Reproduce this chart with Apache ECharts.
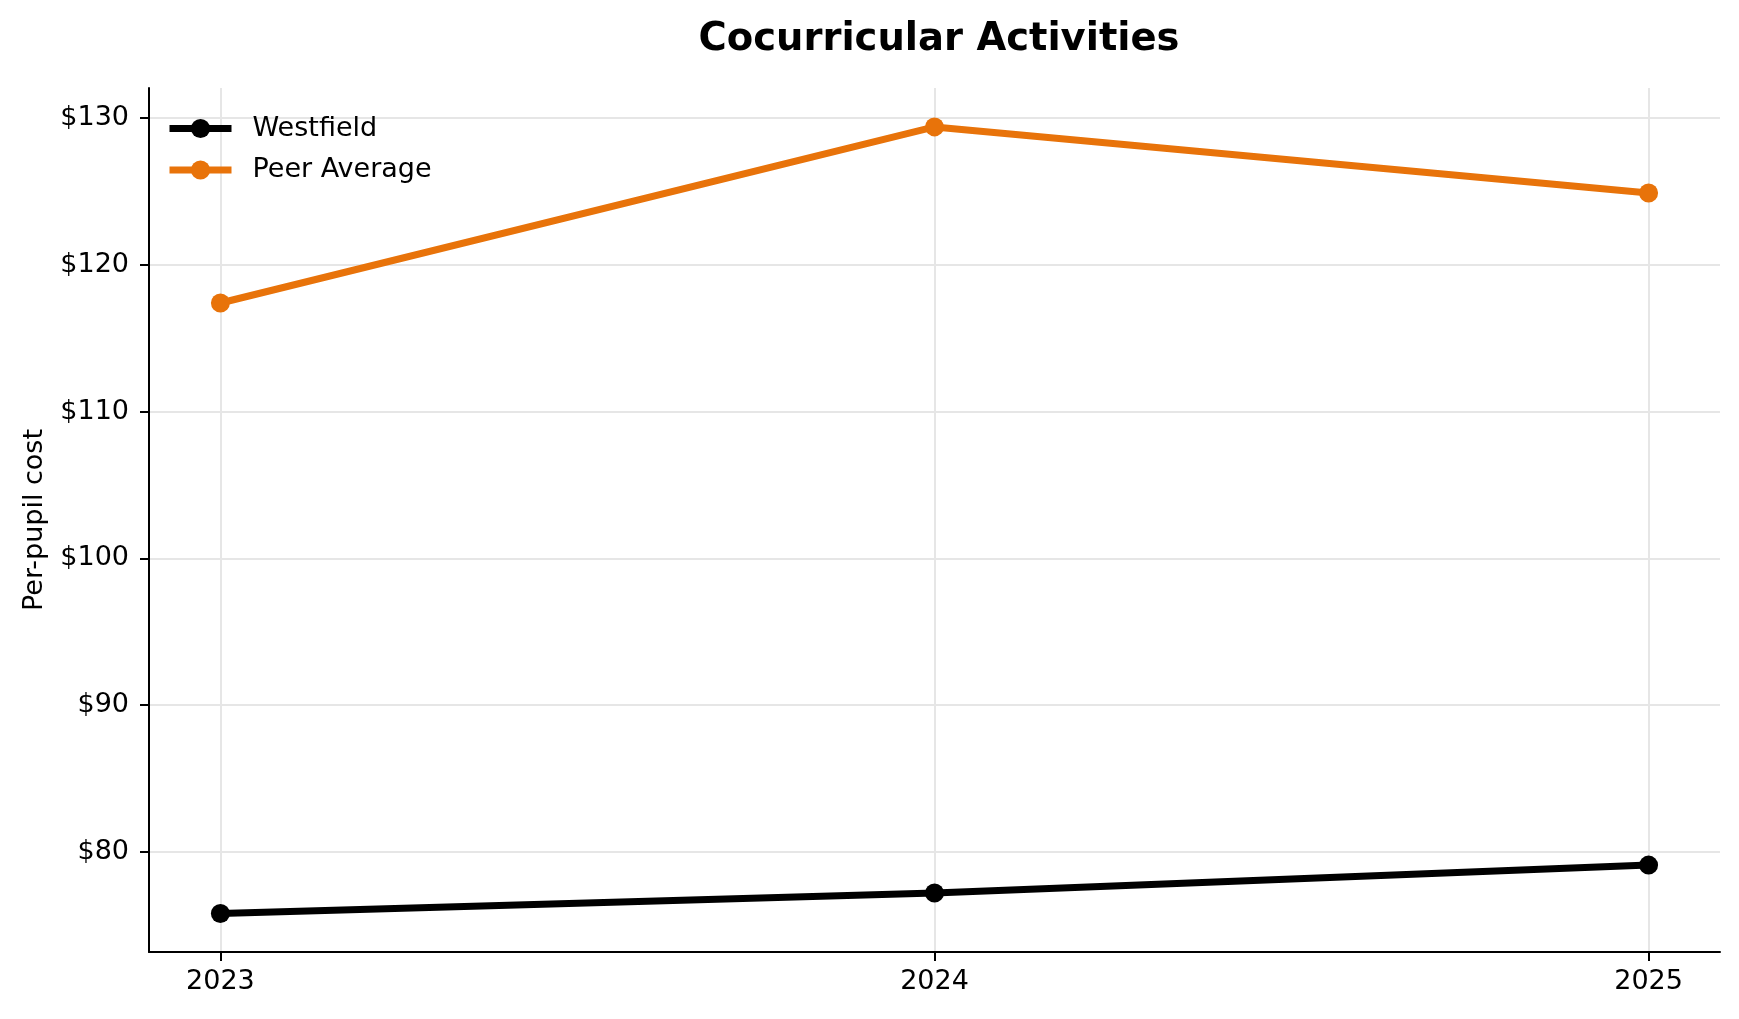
<!DOCTYPE html>
<html>
<head>
<meta charset="utf-8">
<title>Cocurricular Activities</title>
<script src="https://cdn.jsdelivr.net/npm/echarts@6/dist/echarts.min.js"></script>
<style>
	html,body{margin:0;padding:0;background:#fff;}
	#main{width:1739px;height:1019px;}
</style>
</head>
<body>
<div id="main"></div>
<script>
//数据
var years=[2023,2024,2025];
var westfield=[75.8,77.2,79.1];
var peerAvg=[117.4,129.4,124.9];
var yTicks=[80,90,100,110,120,130];

var font='DejaVu Sans';

function pairs(xs,ys){
	var out=[];
	for(var i=0;i<xs.length;i++){
		out.push([xs[i],ys[i]]);
	}
	return out;
}

function lineSeries(name,data,color){
	return {
		name:name,
		type:'line',
		data:pairs(years,data),
		symbol:'circle',
		symbolSize:19,
		showSymbol:true,
		lineStyle:{width:7,color:color},
		itemStyle:{color:color},
		emphasis:{disabled:true},
		z:3
	};
}

var option={
	animation:false,
	backgroundColor:'#fff',
	textStyle:{fontFamily:font},
	title:{
		text:'Cocurricular Activities',
		left:934,
		textAlign:'center',
		top:15,
		textStyle:{fontFamily:font,fontSize:38.5,fontWeight:'bold',color:'#000'}
	},
	legend:{
		left:161,
		top:110,
		orient:'vertical',
		itemWidth:62,
		itemHeight:24,
		itemGap:14.5,
		lineStyle:{width:7},
		textStyle:{fontFamily:font,fontSize:27,color:'#000',padding:[0,0,0,16]},
		data:['Westfield','Peer Average']
	},
	grid:{
		left:149,
		right:19,
		top:88,
		bottom:67,
		outerBoundsMode:'none',
		containLabel:false
	},
	xAxis:{
		type:'value',
		min:2022.9,
		max:2025.1,
		axisLine:{show:true,lineStyle:{color:'#000',width:2}},
		axisTick:{show:true,length:9,lineStyle:{color:'#000',width:2},customValues:years},
		axisLabel:{
			customValues:years,
			fontFamily:font,fontSize:27,color:'#000',margin:16,
			formatter:function(v){return String(Math.round(v));}
		},
		splitLine:{show:true,lineStyle:{color:'#e6e6e6',width:2}}
	},
	yAxis:{
		type:'value',
		min:73.18,
		max:132.05,
		name:'Per-pupil cost',
		nameLocation:'middle',
		nameGap:101,
		nameTextStyle:{fontFamily:font,fontSize:27,color:'#000'},
		axisLine:{show:true,lineStyle:{color:'#000',width:2}},
		axisTick:{show:true,length:9,lineStyle:{color:'#000',width:2},customValues:yTicks},
		axisLabel:{
			customValues:yTicks,
			fontFamily:font,fontSize:27,color:'#000',margin:20,
			formatter:function(v){return '$'+Math.round(v);}
		},
		splitLine:{show:true,lineStyle:{color:'#e6e6e6',width:2}}
	},
	series:[
		lineSeries('Westfield',westfield,'#000000'),
		lineSeries('Peer Average',peerAvg,'#e8730a')
	]
};

var chart=echarts.init(document.getElementById('main'));
chart.setOption(option);
</script>
</body>
</html>
